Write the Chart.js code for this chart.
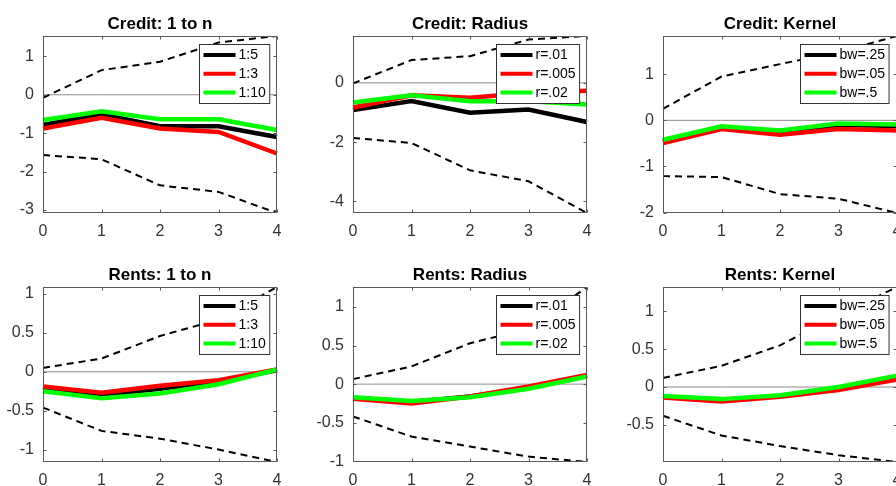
<!DOCTYPE html>
<html>
<head>
<meta charset="utf-8">
<script src="https://cdn.jsdelivr.net/npm/chart.js@4.4.1/dist/chart.umd.min.js"></script>
<style>
  html, body { margin: 0; padding: 0; background: #fff; overflow: hidden; width: 896px; height: 486px; }
  canvas { position: absolute; display: block; }
</style>
</head>
<body>
<script>
// Horizons (x axis) shared by every panel
const horizons = [0, 1, 2, 3, 4];
const zeroRef = [0, 0, 0, 0, 0];

// Legend labels per specification
const oneToNLabels = ['1:5', '1:3', '1:10'];
const radiusLabels = ['r=.01', 'r=.005', 'r=.02'];
const kernelLabels = ['bw=.25', 'bw=.05', 'bw=.5'];

// Credit: 1 to n
const credit1nUpper = [-0.08, 0.64, 0.86, 1.36, 1.53];
const credit1nLower = [-1.57, -1.68, -2.36, -2.53, -3.08];
const credit1n_5  = [-0.79, -0.51, -0.82, -0.82, -1.10];
const credit1n_3  = [-0.88, -0.60, -0.88, -0.97, -1.53];
const credit1n_10 = [-0.66, -0.43, -0.64, -0.64, -0.92];
const credit1nTicks = [-3, -2, -1, 0, 1];

// Credit: Radius
const creditRadUpper = [-0.02, 0.77, 0.90, 1.46, 1.58];
const creditRadLower = [-1.86, -2.03, -2.95, -3.32, -4.39];
const creditRad_01  = [-0.92, -0.61, -1.01, -0.90, -1.32];
const creditRad_005 = [-0.83, -0.42, -0.50, -0.34, -0.27];
const creditRad_02  = [-0.66, -0.42, -0.62, -0.62, -0.73];
const creditRadTicks = [-4, -2, 0];

// Credit: Kernel
const creditKerUpper = [0.25, 0.95, 1.22, 1.48, 1.83];
const creditKerLower = [-1.21, -1.23, -1.60, -1.70, -2.01];
const creditKer_25 = [-0.45, -0.15, -0.26, -0.10, -0.12];
const creditKer_05 = [-0.49, -0.19, -0.31, -0.19, -0.22];
const creditKer_5  = [-0.42, -0.13, -0.22, -0.07, -0.09];
const creditKerTicks = [-2, -1, 0, 1];

// Rents: 1 to n
const rents1nUpper = [0.05, 0.17, 0.46, 0.67, 1.09];
const rents1nLower = [-0.46, -0.76, -0.86, -1.00, -1.16];
const rents1n_5  = [-0.20, -0.30, -0.22, -0.12, 0.02];
const rents1n_3  = [-0.19, -0.27, -0.18, -0.11, 0.03];
const rents1n_10 = [-0.25, -0.34, -0.28, -0.16, 0.03];
const rents1nTicks = [-1, -0.5, 0, 0.5, 1];

// Rents: Radius
const rentsRadUpper = [0.065, 0.23, 0.53, 0.72, 1.26];
const rentsRadLower = [-0.42, -0.68, -0.81, -0.94, -1.01];
const rentsRad_01  = [-0.18, -0.23, -0.16, -0.05, 0.11];
const rentsRad_005 = [-0.19, -0.25, -0.16, -0.03, 0.12];
const rentsRad_02  = [-0.17, -0.22, -0.17, -0.06, 0.10];
const rentsRadTicks = [-1, -0.5, 0, 0.5, 1];

// Rents: Kernel
const rentsKerUpper = [0.12, 0.28, 0.55, 0.95, 1.32];
const rentsKerLower = [-0.38, -0.64, -0.78, -0.90, -0.99];
const rentsKer_25 = [-0.13, -0.17, -0.12, -0.02, 0.13];
const rentsKer_05 = [-0.14, -0.19, -0.13, -0.04, 0.10];
const rentsKer_5  = [-0.12, -0.16, -0.11, 0.00, 0.15];
const rentsKerTicks = [-0.5, 0, 0.5, 1];

const panels = [
  { title: 'Credit: 1 to n', row: 0, col: 0, labels: oneToNLabels, series: [credit1n_5, credit1n_3, credit1n_10], upper: credit1nUpper, lower: credit1nLower, yMin: -3.08, yMax: 1.53, ticks: credit1nTicks },
  { title: 'Credit: Radius', row: 0, col: 1, labels: radiusLabels, series: [creditRad_01, creditRad_005, creditRad_02], upper: creditRadUpper, lower: creditRadLower, yMin: -4.39, yMax: 1.58, ticks: creditRadTicks },
  { title: 'Credit: Kernel', row: 0, col: 2, labels: kernelLabels, series: [creditKer_25, creditKer_05, creditKer_5], upper: creditKerUpper, lower: creditKerLower, yMin: -2.01, yMax: 1.83, ticks: creditKerTicks },
  { title: 'Rents: 1 to n', row: 1, col: 0, labels: oneToNLabels, series: [rents1n_5, rents1n_3, rents1n_10], upper: rents1nUpper, lower: rents1nLower, yMin: -1.16, yMax: 1.09, ticks: rents1nTicks },
  { title: 'Rents: Radius', row: 1, col: 1, labels: radiusLabels, series: [rentsRad_01, rentsRad_005, rentsRad_02], upper: rentsRadUpper, lower: rentsRadLower, yMin: -1.01, yMax: 1.26, ticks: rentsRadTicks },
  { title: 'Rents: Kernel', row: 1, col: 2, labels: kernelLabels, series: [rentsKer_25, rentsKer_05, rentsKer_5], upper: rentsKerUpper, lower: rentsKerLower, yMin: -0.99, yMax: 1.32, ticks: rentsKerTicks }
];

const lineColors = ['#000000', '#ff0000', '#00ff00'];
const FONT = '"Liberation Sans", Arial, Helvetica, sans-serif';

// Subplot geometry
const plotLefts = [43, 353, 663];
const plotTops = [36, 287];
const plotHeights = [177, 175];
const canvasTops = [0, 251];
const canvasHeights = [243, 235];
const plotWidth = 234;
const yAxisWidth = 43;
const xAxisHeight = 24;

// Axes box with inward tick marks, plus panel title
const axesFrame = {
  id: 'axesFrame',
  afterDatasetsDraw(chart) {
    const { ctx, chartArea: a, scales } = chart;
    ctx.save();
    ctx.strokeStyle = '#5a5a5a';
    ctx.lineWidth = 1;
    const L = Math.round(a.left) + 0.5, R = Math.round(a.right) - 0.5;
    const T = Math.round(a.top) + 0.5, B = Math.round(a.bottom) - 0.5;
    ctx.strokeRect(L, T, R - L, B - T);
    const tl = 3;
    ctx.beginPath();
    scales.x.ticks.forEach((t, i) => {
      const px = Math.round(scales.x.getPixelForTick(i)) + 0.5;
      ctx.moveTo(px, B); ctx.lineTo(px, B - tl);
      ctx.moveTo(px, T); ctx.lineTo(px, T + tl);
    });
    scales.y.ticks.forEach((t) => {
      const py = Math.round(scales.y.getPixelForValue(t.value)) + 0.5;
      ctx.moveTo(L, py); ctx.lineTo(L + tl, py);
      ctx.moveTo(R, py); ctx.lineTo(R - tl, py);
    });
    ctx.stroke();
    ctx.restore();
  },
  afterDraw(chart, args, opts) {
    const { ctx, chartArea: a } = chart;
    ctx.save();
    ctx.fillStyle = '#000';
    ctx.font = 'bold 17px ' + FONT;
    ctx.textAlign = 'center';
    ctx.textBaseline = 'alphabetic';
    ctx.fillText(opts.title, (a.left + a.right) / 2, a.top - 7);
    ctx.restore();
  }
};

// Boxed legend in the upper-right corner of the axes
const boxLegend = {
  id: 'boxLegend',
  afterDraw(chart, args, opts) {
    const { ctx, chartArea: a } = chart;
    const entries = opts.entries;
    ctx.save();
    ctx.font = '14px ' + FONT;
    const tw = Math.max(...entries.map(e => ctx.measureText(e.label).width));
    const w = 4 + 32 + 3 + tw + 4;
    const h = 59;
    const x = Math.round(a.right - 8 - w) + 0.5;
    const y = Math.round(a.top + 8) + 0.5;
    ctx.fillStyle = '#fff';
    ctx.fillRect(x, y, w, h);
    ctx.strokeStyle = '#333';
    ctx.lineWidth = 1;
    ctx.strokeRect(x, y, w, h);
    entries.forEach((e, i) => {
      const ry = y + 10.5 + i * 18.8;
      ctx.strokeStyle = e.color;
      ctx.lineWidth = 4;
      ctx.beginPath();
      ctx.moveTo(x + 4, ry);
      ctx.lineTo(x + 36, ry);
      ctx.stroke();
      ctx.fillStyle = '#000';
      ctx.textAlign = 'left';
      ctx.textBaseline = 'middle';
      ctx.fillText(e.label, x + 39, ry + 0.5);
    });
    ctx.restore();
  }
};

panels.forEach((p) => {
  const canvas = document.createElement('canvas');
  const left = plotLefts[p.col] - yAxisWidth;
  const top = canvasTops[p.row];
  const width = 310;
  const height = canvasHeights[p.row];
  canvas.width = width;
  canvas.height = height;
  canvas.style.left = left + 'px';
  canvas.style.top = top + 'px';
  canvas.style.width = width + 'px';
  canvas.style.height = height + 'px';
  document.body.appendChild(canvas);

  const padTop = plotTops[p.row] - top;
  const padBottom = height - padTop - plotHeights[p.row] - xAxisHeight;
  const padRight = width - yAxisWidth - plotWidth;

  const datasets = [
    { data: zeroRef, borderColor: '#8c8c8c', borderWidth: 1, order: 5 },
    { data: p.upper, borderColor: '#000', borderWidth: 2, borderDash: [7, 5], order: 4 },
    { data: p.lower, borderColor: '#000', borderWidth: 2, borderDash: [7, 5], order: 4 },
    { label: p.labels[0], data: p.series[0], borderColor: lineColors[0], borderWidth: 4.5, order: 2 },
    { label: p.labels[1], data: p.series[1], borderColor: lineColors[1], borderWidth: 4.5, order: 1 },
    { label: p.labels[2], data: p.series[2], borderColor: lineColors[2], borderWidth: 4.5, order: 0 }
  ].map(d => Object.assign({ pointRadius: 0, pointHoverRadius: 0, tension: 0, fill: false, borderCapStyle: 'butt', borderJoinStyle: 'miter' }, d));

  new Chart(canvas, {
    type: 'line',
    data: { labels: horizons, datasets },
    options: {
      responsive: false,
      animation: false,
      devicePixelRatio: 1,
      events: [],
      layout: { padding: { top: padTop, bottom: padBottom, left: 0, right: padRight } },
      plugins: {
        legend: { display: false },
        tooltip: { enabled: false },
        title: { display: false },
        axesFrame: { title: p.title },
        boxLegend: { entries: p.labels.map((l, i) => ({ label: l, color: lineColors[i] })) }
      },
      scales: {
        x: {
          type: 'category',
          offset: false,
          grid: { display: false, drawTicks: false },
          border: { display: false },
          ticks: { color: '#333', font: { family: FONT, size: 16 }, padding: 9, maxRotation: 0, autoSkip: false },
          afterFit(scale) { scale.height = xAxisHeight; }
        },
        y: {
          min: p.yMin,
          max: p.yMax,
          grid: { display: false, drawTicks: false },
          border: { display: false },
          ticks: { color: '#333', font: { family: FONT, size: 16 }, padding: 9, autoSkip: false, callback: (v) => String(v) },
          afterBuildTicks(scale) { scale.ticks = p.ticks.map(v => ({ value: v })); },
          afterFit(scale) { scale.width = yAxisWidth; }
        }
      }
    },
    plugins: [axesFrame, boxLegend]
  });
});
</script>
</body>
</html>
